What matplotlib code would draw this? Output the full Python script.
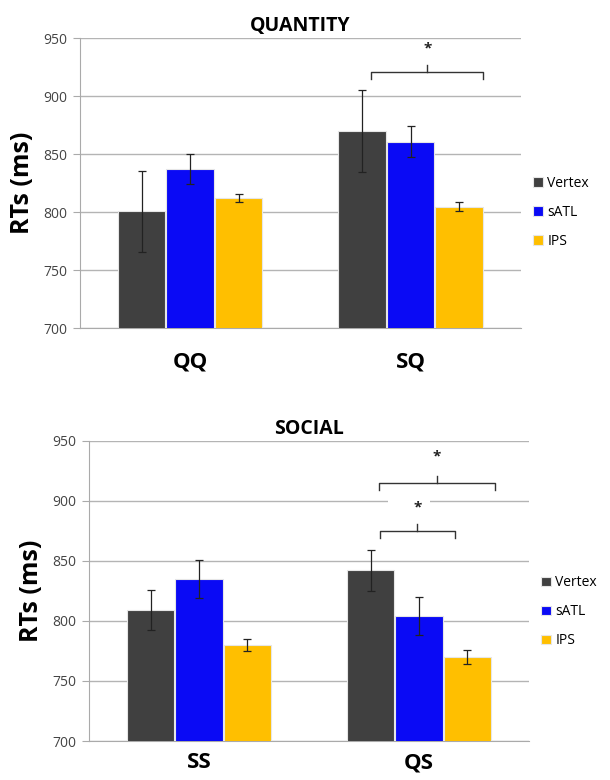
import numpy as np
import matplotlib.pyplot as plt
from matplotlib.patches import Rectangle

plt.rcParams['font.family'] = ['Open Sans', 'DejaVu Sans']

series = ["Vertex", "sATL", "IPS"]
colors = ["#404040", "#0a0af5", "#ffbf00"]

# quantity task
q_cats = ["QQ", "SQ"]
q_means = {"Vertex": [801, 870], "sATL": [837, 861], "IPS": [812, 805]}
q_errs = {"Vertex": [35, 35], "sATL": [13, 13], "IPS": [3.5, 4]}

# social task
s_cats = ["SS", "QS"]
s_means = {"Vertex": [809, 842], "sATL": [835, 804], "IPS": [780, 770]}
s_errs = {"Vertex": [17, 17], "sATL": [16, 16], "IPS": [5, 5.5]}

# significance brackets: (x0, x1, y level, star y)
q_brackets = [(0.82, 1.33, 921, 941)]
s_brackets = [(0.82, 1.345, 915, 937), (0.823, 1.164, 875, 894)]

fig = plt.figure(figsize=(6.1, 7.8), dpi=100)
ax1 = fig.add_axes([0.131, 0.579, 0.723, 0.372])
ax2 = fig.add_axes([0.146, 0.05, 0.721, 0.385])

width = 0.22


def draw(ax, cats, means, errs, title, brackets, leg_y, xpad):
    x = np.arange(len(cats))
    for i, s in enumerate(series):
        ax.bar(x + (i - 1) * width, means[s], width * 0.98, color=colors[i],
               edgecolor="#e6e6e6", linewidth=0.8, label=s, zorder=3,
               yerr=errs[s], capsize=3,
               error_kw=dict(ecolor="#222222", elinewidth=0.9, capthick=0.9))
    ax.set_ylim(700, 950)
    ax.set_xlim(-0.5, 1.5)
    ax.set_yticks(np.arange(700, 951, 50))
    ax.set_xticks(x)
    ax.set_xticklabels(cats, fontsize=16, fontweight="bold")
    ax.tick_params(axis="x", length=0, pad=xpad)
    ax.tick_params(axis="y", length=5, color="#aaaaaa", labelsize=10,
                   labelcolor="#444444", pad=4)
    ax.yaxis.grid(True, color="#b4b4b4", linewidth=1.0, zorder=0)
    ax.set_axisbelow(True)
    for sp in ["top", "right"]:
        ax.spines[sp].set_visible(False)
    ax.spines["left"].set_color("#aaaaaa")
    ax.spines["bottom"].set_color("#aaaaaa")
    ax.set_ylabel("RTs (ms)", fontsize=18, fontweight="bold", labelpad=6)
    ax.set_title(title, fontsize=14, fontweight="bold", pad=5)
    for x0, x1, yb, ys in brackets:
        xm = (x0 + x1) / 2
        ax.plot([x0, x0, x1, x1], [yb - 6, yb, yb, yb - 6], color="#333333",
                lw=1.0, zorder=4)
        ax.plot([xm, xm], [yb, yb + 6], color="#333333", lw=1.0, zorder=4)
        ax.text(xm, ys, "*", ha="center", va="center", fontsize=11,
                fontweight="bold", color="#222222", zorder=5)
    ax.legend(loc="center left", bbox_to_anchor=(1.0, leg_y), frameon=False,
              fontsize=10, handlelength=0.7, handleheight=0.7,
              handletextpad=0.3, labelspacing=1.0)


draw(ax1, q_cats, q_means, q_errs, "QUANTITY", q_brackets, 0.40, 17)
draw(ax2, s_cats, s_means, s_errs, "SOCIAL", s_brackets, 0.43, 8)

# white gap in the 900 gridline behind the lower star
ax2.add_patch(Rectangle((0.86, 896), 0.19, 8, facecolor="white",
                        edgecolor="none", zorder=1))

fig.savefig("out.png", dpi=100)
